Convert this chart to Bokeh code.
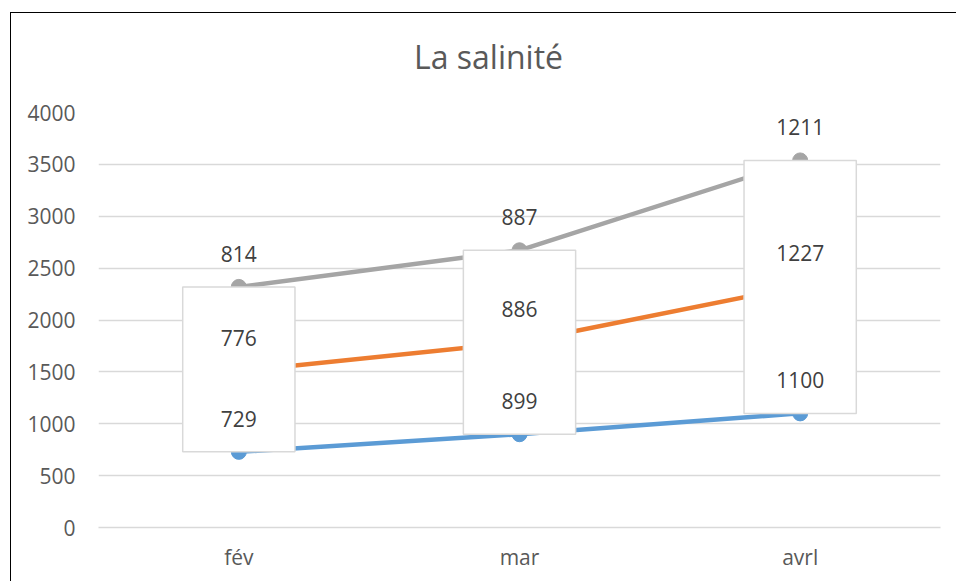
from bokeh.plotting import figure
from bokeh.layouts import column, row
from bokeh.models import FactorRange, Range1d, ColumnDataSource, FixedTicker, Div, Spacer
from bokeh.core.properties import value
from bokeh.embed import file_html
from bokeh.resources import INLINE

months = ["fév", "mar", "avrl"]
serie1 = [729, 899, 1100]
serie2 = [776, 886, 1227]
serie3 = [814, 887, 1211]
y_ticks = [0, 500, 1000, 1500, 2000, 2500, 3000, 3500, 4000]
title_text = "La salinité"

cum1 = serie1
cum2 = [a + b for a, b in zip(cum1, serie2)]
cum3 = [a + b for a, b in zip(cum2, serie3)]

FONT = "Open Sans"
TXT = "#595959"
GRID = "#d9d9d9"

p = figure(x_range=FactorRange(*months, range_padding=0), y_range=Range1d(0, 4000),
           width=946, height=504, output_backend="svg", toolbar_location=None,
           min_border_left=87, min_border_top=34, min_border_right=17, min_border_bottom=55,
           margin=0)
p.outline_line_color = None
p.background_fill_color = "white"
p.border_fill_color = "white"

p.xgrid.grid_line_color = None
p.ygrid.grid_line_color = GRID
p.ygrid.grid_line_width = 1.5
p.yaxis.ticker = FixedTicker(ticks=y_ticks)

for ax in (p.xaxis[0], p.yaxis[0]):
    ax.major_tick_line_color = None
    ax.minor_tick_line_color = None
    ax.major_label_text_font = FONT
    ax.major_label_text_font_size = "21px"
    ax.major_label_text_color = TXT
p.yaxis.axis_line_color = None
p.yaxis.major_label_standoff = 17
p.xaxis.axis_line_color = GRID
p.xaxis.axis_line_width = 1.5
p.xaxis.major_label_standoff = 9

src = ColumnDataSource(dict(x=months, s1=serie1, s2=serie2, s3=serie3,
                            c1=cum1, c2=cum2, c3=cum3))

colors = ["#5B9BD5", "#ED7D31", "#A5A5A5"]
for col, c in zip(["c1", "c2", "c3"], colors):
    p.line("x", col, source=src, line_color=c, line_width=4.5, line_cap="round")
    p.scatter("x", col, source=src, size=15, fill_color=c, line_color=c)

p.vbar(x="x", top="c3", bottom="c1", width=0.4, source=src,
       fill_color="white", line_color=GRID, line_width=1.5)

for col, lab in zip(["c1", "c2", "c3"], ["s1", "s2", "s3"]):
    p.text("x", col, text=lab, source=src, y_offset=-33,
           text_font=value(FONT), text_font_size="21px", text_color="#404040",
           text_align="center", text_baseline="middle")

title = Div(text=title_text, width=400, height=43, margin=(22, 0, 0, 403),
            styles={"font-family": "Open Sans", "font-size": "32px", "color": TXT,
                    "line-height": "43px", "white-space": "nowrap"})

chart = column(title, p, spacing=0,
               styles={"box-shadow": "-1px -1px 0 0 #000", "background": "white"})

layout = row(Spacer(width=11, height=10),
             column(Spacer(width=10, height=13), chart, spacing=0),
             spacing=0)

open("out.html", "w").write(file_html(layout, INLINE))
